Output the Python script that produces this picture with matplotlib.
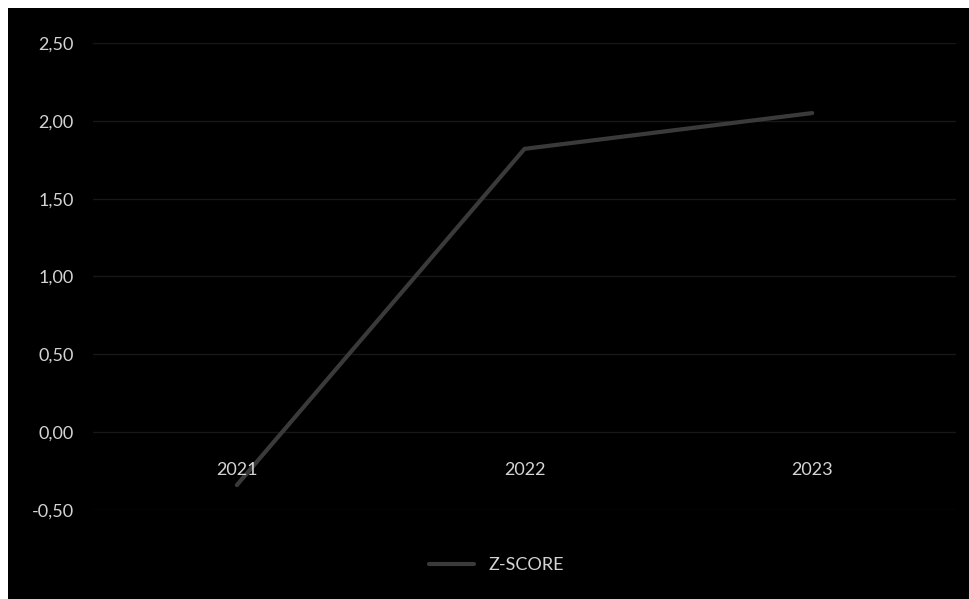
import matplotlib.pyplot as plt
from matplotlib.patches import Rectangle

years = ['2021', '2022', '2023']
zscore = [-0.34, 1.82, 2.05]
yticks = [-0.5, 0.0, 0.5, 1.0, 1.5, 2.0, 2.5]

txt_col = '#d4d4d4'
plt.rcParams['font.family'] = ['Lato', 'DejaVu Sans']

fig = plt.figure(figsize=(9.7, 5.99), dpi=100)
fig.patch.set_facecolor('white')
# black chart area, with the scan's white strip at top and left
fig.patches.append(Rectangle((8 / 970, 0), 1, 1 - 8 / 599, transform=fig.transFigure,
                             facecolor='black', edgecolor='none', zorder=-10))

ax = fig.add_axes([0.0959, 0.1486, 0.8897, 0.7796])
ax.set_zorder(5)
ax.set_facecolor('black')
x = list(range(len(years)))
ax.plot(x, zscore, color='#3a3a3a', lw=3.0, solid_capstyle='round', label='Z-SCORE', zorder=3)

ax.set_xlim(-0.5, len(years) - 0.5)
ax.set_ylim(-0.5, 2.5)
ax.set_yticks(yticks)
ax.set_yticklabels([f'{v:.2f}'.replace('.', ',') for v in yticks], color=txt_col, fontsize=13)
ax.tick_params(axis='y', length=0, pad=14)
ax.set_xticks([])
for sp in ax.spines.values():
    sp.set_visible(False)
ax.grid(axis='y', color='#171717', lw=1)
ax.set_axisbelow(True)

# category labels sit next to the zero line
for i, yr in enumerate(years):
    ax.annotate(yr, (i, 0), xytext=(0, -38), textcoords='offset pixels',
                ha='center', va='center', color=txt_col, fontsize=13)

leg = fig.legend(loc='center', bbox_to_anchor=(0.512, 0.057), frameon=False,
                 fontsize=13, handlelength=2.5)
for t in leg.get_texts():
    t.set_color(txt_col)

fig.savefig('out.png', dpi=100, facecolor=fig.get_facecolor())
